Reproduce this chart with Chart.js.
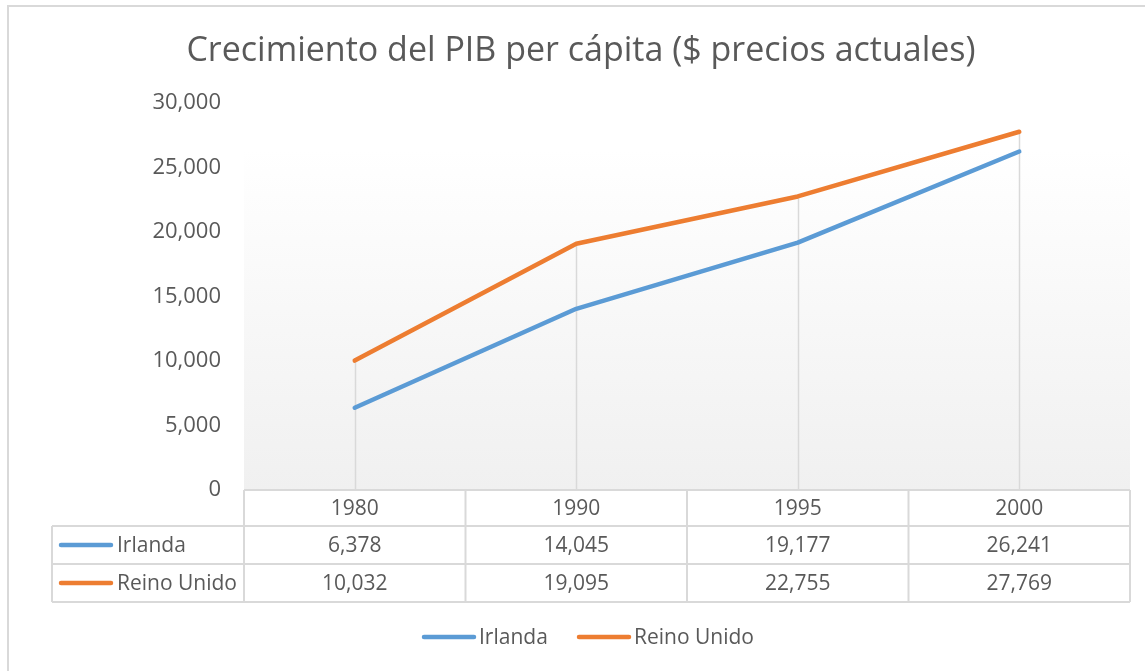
<!DOCTYPE html>
<html>
<head>
<meta charset="utf-8">
<script src="https://cdn.jsdelivr.net/npm/chart.js@4"></script>
<style>
  html, body { margin: 0; padding: 0; background: #fff; }
  canvas { display: block; }
</style>
</head>
<body>
<canvas id="myChart" width="1145" height="671"></canvas>
<script>
const years = ["1980", "1990", "1995", "2000"];
const irlanda = [6378, 14045, 19177, 26241];
const reinoUnido = [10032, 19095, 22755, 27769];
const seriesNames = ["Irlanda", "Reino Unido"];
const seriesColors = ["#5B9BD5", "#ED7D31"];
const titleText = "Crecimiento del PIB per cápita ($ precios actuales)";

const FONT = "'Open Sans', sans-serif";
const TEXT = "#595959";
const GRID = "#d9d9d9";

const fmt = v => v.toLocaleString("en-US");

// plot background, drop lines, data table, legend, title
const excelBits = {
  id: "excelBits",
  beforeDatasetsDraw(chart) {
    const { ctx, chartArea: a, scales: { x, y } } = chart;
    ctx.save();
    const g = ctx.createLinearGradient(0, a.top, 0, a.bottom);
    g.addColorStop(0, "#ffffff");
    g.addColorStop(0.12, "#ffffff");
    g.addColorStop(1, "#f0f0f0");
    ctx.fillStyle = g;
    ctx.fillRect(a.left, a.top, a.right - a.left, a.bottom - a.top);

    // drop lines from the highest point to the axis
    ctx.strokeStyle = GRID;
    ctx.lineWidth = 1.5;
    years.forEach((yr, i) => {
      const px = Math.round(x.getPixelForValue(i)) + 0.5;
      const top = y.getPixelForValue(Math.max(irlanda[i], reinoUnido[i]));
      ctx.beginPath();
      ctx.moveTo(px, top);
      ctx.lineTo(px, a.bottom);
      ctx.stroke();
    });
    ctx.restore();
  },
  afterDraw(chart) {
    const { ctx, chartArea: a, scales: { x } } = chart;
    ctx.save();

    // outer chart border
    ctx.strokeStyle = GRID;
    ctx.lineWidth = 2;
    ctx.strokeRect(8, 6, 1150, 680);

    // title
    ctx.fillStyle = TEXT;
    ctx.font = "34px " + FONT;
    ctx.textAlign = "center";
    ctx.textBaseline = "middle";
    ctx.fillText(titleText, 581, 51);

    // data table
    const rowTop = [a.bottom, 526, 564, 602];
    const tableLeft = 52;
    const colW = (x.getPixelForValue(1) - x.getPixelForValue(0));
    const edges = years.map((_, i) => x.getPixelForValue(i) - colW / 2);
    edges.push(x.getPixelForValue(years.length - 1) + colW / 2);

    ctx.strokeStyle = GRID;
    ctx.lineWidth = 2;
    ctx.beginPath();
    // horizontal lines
    ctx.moveTo(a.left, rowTop[0]); ctx.lineTo(a.right, rowTop[0]);
    for (let r = 1; r < rowTop.length; r++) {
      ctx.moveTo(tableLeft, rowTop[r]); ctx.lineTo(a.right, rowTop[r]);
    }
    // vertical lines
    edges.forEach(ex => {
      ctx.moveTo(ex, rowTop[0]); ctx.lineTo(ex, rowTop[3]);
    });
    ctx.moveTo(tableLeft, rowTop[1]); ctx.lineTo(tableLeft, rowTop[3]);
    ctx.stroke();

    ctx.font = "21px " + FONT;
    ctx.fillStyle = TEXT;
    ctx.textAlign = "center";
    years.forEach((yr, i) => {
      const cx = x.getPixelForValue(i);
      ctx.fillText(yr, cx, (rowTop[0] + rowTop[1]) / 2 + 1);
      ctx.fillText(fmt(irlanda[i]), cx, (rowTop[1] + rowTop[2]) / 2 + 1);
      ctx.fillText(fmt(reinoUnido[i]), cx, (rowTop[2] + rowTop[3]) / 2 + 1);
    });

    const marker = (x0, x1, yy, color) => {
      ctx.strokeStyle = color;
      ctx.lineWidth = 4.5;
      ctx.lineCap = "round";
      ctx.beginPath();
      ctx.moveTo(x0, yy); ctx.lineTo(x1, yy);
      ctx.stroke();
    };

    ctx.textAlign = "left";
    seriesNames.forEach((name, s) => {
      const cy = (rowTop[s + 1] + rowTop[s + 2]) / 2;
      marker(61, 111, cy, seriesColors[s]);
      ctx.fillStyle = TEXT;
      ctx.fillText(name, 117, cy + 1);
    });

    // legend
    const legY = 637;
    marker(424, 474, legY, seriesColors[0]);
    ctx.fillStyle = TEXT;
    ctx.fillText(seriesNames[0], 479, legY + 1);
    marker(579, 629, legY, seriesColors[1]);
    ctx.fillStyle = TEXT;
    ctx.fillText(seriesNames[1], 634, legY + 1);

    ctx.restore();
  }
};

const ctx = document.getElementById("myChart").getContext("2d");
const chart = new Chart(ctx, {
  type: "line",
  data: {
    labels: years,
    datasets: [
      {
        label: seriesNames[0],
        data: irlanda,
        borderColor: seriesColors[0],
        backgroundColor: seriesColors[0],
        borderWidth: 4.5,
        borderCapStyle: "round",
        borderJoinStyle: "round",
        pointRadius: 0,
        tension: 0
      },
      {
        label: seriesNames[1],
        data: reinoUnido,
        borderColor: seriesColors[1],
        backgroundColor: seriesColors[1],
        borderWidth: 4.5,
        borderCapStyle: "round",
        borderJoinStyle: "round",
        pointRadius: 0,
        tension: 0
      }
    ]
  },
  options: {
    responsive: false,
    animation: false,
    layout: { padding: { top: 103, right: 15, left: 0, bottom: 0 } },
    plugins: {
      legend: { display: false },
      title: { display: false },
      tooltip: { enabled: false }
    },
    scales: {
      x: {
        offset: true,
        grid: { display: false },
        border: { display: false },
        ticks: { display: false },
        afterFit(scale) { scale.height = 181; }
      },
      y: {
        min: 0,
        max: 30000,
        grid: { display: false },
        border: { display: false },
        ticks: {
          stepSize: 5000,
          padding: 15,
          color: TEXT,
          font: { family: FONT, size: 22 },
          callback: v => fmt(v)
        },
        afterFit(scale) { scale.width = 244; }
      }
    }
  },
  plugins: [excelBits]
});
</script>
</body>
</html>
